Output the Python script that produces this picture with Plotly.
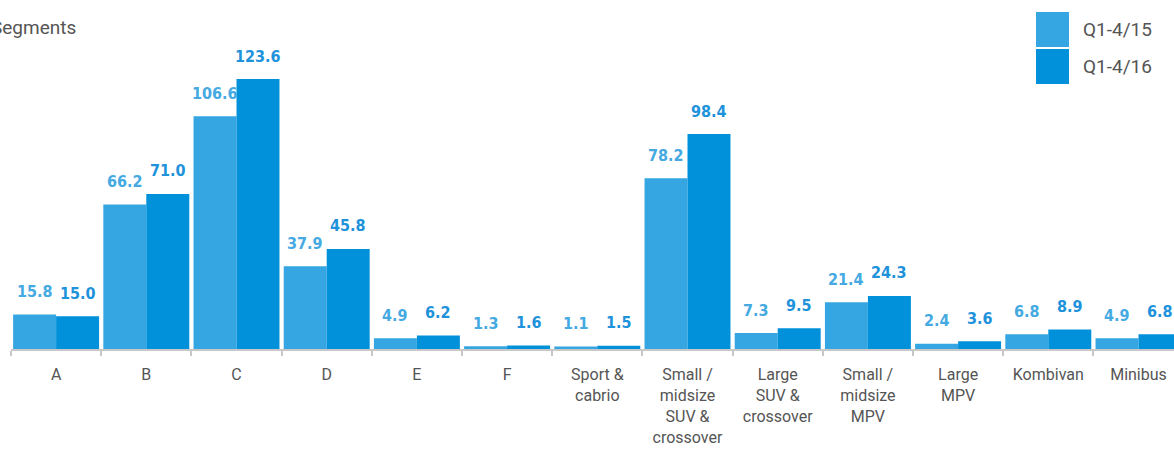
import plotly.graph_objects as go

categories = ["A", "B", "C", "D", "E", "F", "Sport &<br>cabrio",
              "Small /<br>midsize<br>SUV &<br>crossover",
              "Large<br>SUV &<br>crossover",
              "Small /<br>midsize<br>MPV",
              "Large<br>MPV", "Kombivan", "Minibus"]
series_names = ["Q1-4/15", "Q1-4/16"]
values_15 = [15.8, 66.2, 106.6, 37.9, 4.9, 1.3, 1.1, 78.2, 7.3, 21.4, 2.4, 6.8, 4.9]
values_16 = [15.0, 71.0, 123.6, 45.8, 6.2, 1.6, 1.5, 98.4, 9.5, 24.3, 3.6, 8.9, 6.8]
title_text = "Segments"

colors = ["#36a6e2", "#0091da"]
label_colors = ["#45a9e2", "#1e92da"]

W, H = 1174, 450
ML, MR, MT, MB = 11, 0, 20, 101
PW, PH = W - ML - MR, H - MT - MB
cat_px = 90.2

fig = go.Figure()
for name, vals, col in zip(series_names, [values_15, values_16], colors):
    fig.add_trace(go.Bar(x=categories, y=vals, name=name, marker_color=col,
                         marker_line_width=0, showlegend=False))

bar_off = cat_px * (1 - 0.047) / 4
for s, (vals, lc) in enumerate(zip([values_15, values_16], label_colors)):
    for c, v in zip(categories, vals):
        fig.add_annotation(x=c, y=v, text=f"{v:.1f}", showarrow=False,
                           xshift=(-bar_off if s == 0 else bar_off), yshift=23,
                           yanchor="middle",
                           font=dict(family="DejaVu Sans Condensed", size=16, weight="bold",
                                     color=lc))

def px_x(p):
    return (p - ML) / PW

def px_y(p):
    return (H - MB - p) / PH

# title (partially cut at left edge as in reference)
fig.add_annotation(xref="paper", yref="paper", x=px_x(-11), y=px_y(27),
                   xanchor="left", yanchor="middle", text=title_text, showarrow=False,
                   font=dict(family="Roboto, sans-serif", size=19, color="#555555"))

# legend swatches and labels
for i, (name, col) in enumerate(zip(series_names, colors)):
    y0, y1 = 12 + i * 37, 47 + i * 37
    fig.add_shape(type="rect", xref="paper", yref="paper",
                  x0=px_x(1036), x1=px_x(1069), y0=px_y(y1), y1=px_y(y0),
                  fillcolor=col, line_width=0)
    fig.add_annotation(xref="paper", yref="paper", x=px_x(1081), y=px_y((y0 + y1) / 2),
                       xanchor="left", yanchor="middle", text=name, showarrow=False,
                       font=dict(family="Roboto, sans-serif", size=19, color="#555555"))

fig.update_layout(
    width=W, height=H,
    margin=dict(l=ML, r=MR, t=MT, b=MB, pad=0, autoexpand=False),
    barmode="group", bargap=0.047, bargroupgap=0,
    plot_bgcolor="white", paper_bgcolor="white",
    xaxis=dict(type="category", range=[-0.5, -0.5 + PW / cat_px], automargin=False,
               showline=True, linecolor="#c8c8c8", linewidth=2,
               ticks="outside", tickson="boundaries", ticklen=5, tickcolor="#c8c8c8",
               tickwidth=1.5, showgrid=False, ticklabelstandoff=10,
               tickfont=dict(family="Roboto, sans-serif", size=16, color="#555555")),
    yaxis=dict(visible=False, range=[0, PH / 2.184], showgrid=False, automargin=False),
)

fig.write_html("out.html")
